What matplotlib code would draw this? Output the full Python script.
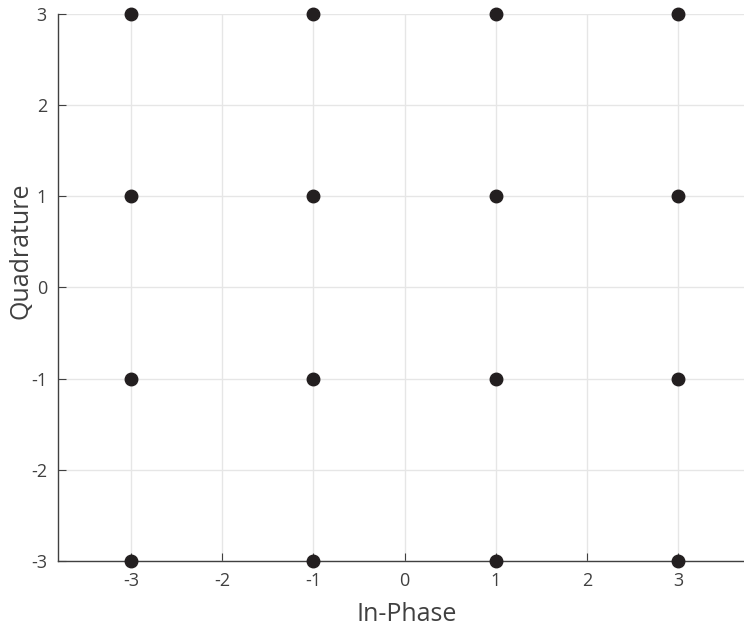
import numpy as np
import matplotlib.pyplot as plt

plt.rcParams['font.family'] = ['Open Sans', 'DejaVu Sans']
plt.rcParams['axes.unicode_minus'] = False

# 16-QAM constellation points
inphase = [-3, -1, 1, 3, -3, -1, 1, 3, -3, -1, 1, 3, -3, -1, 1, 3]
quadrature = [3, 3, 3, 3, 1, 1, 1, 1, -1, -1, -1, -1, -3, -3, -3, -3]

xticks = [-3, -2, -1, 0, 1, 2, 3]
yticks = [-3, -2, -1, 0, 1, 2, 3]

fig = plt.figure(figsize=(7.44, 6.3), dpi=100)
ax = fig.add_axes([0.078, 0.1095, 0.9315, 0.869])

ax.plot(inphase, quadrature, linestyle='none', marker='o', markersize=9,
        color='#231f20', clip_on=False, zorder=3)

ax.set_xlim(-3.8, 3.8)
ax.set_ylim(-3, 3)
ax.set_xticks(xticks)
ax.set_yticks(yticks)
ax.grid(True, color='#e6e6e6', linewidth=1.0)
ax.set_axisbelow(True)

for s in ['top', 'right']:
    ax.spines[s].set_visible(False)
for s in ['left', 'bottom']:
    ax.spines[s].set_color('#404040')
    ax.spines[s].set_linewidth(1.0)

ax.tick_params(direction='in', length=5.5, width=0.8, color='#404040',
               labelcolor='#404040', labelsize=13, pad=8)

ax.set_xlabel('In-Phase', fontsize=18, color='#404040')
ax.set_ylabel('Quadrature', fontsize=18, color='#404040')
ax.xaxis.set_label_coords(0.503, -0.074)
ax.yaxis.set_label_coords(-0.036, 0.566)

plt.savefig('out.png', dpi=100)
